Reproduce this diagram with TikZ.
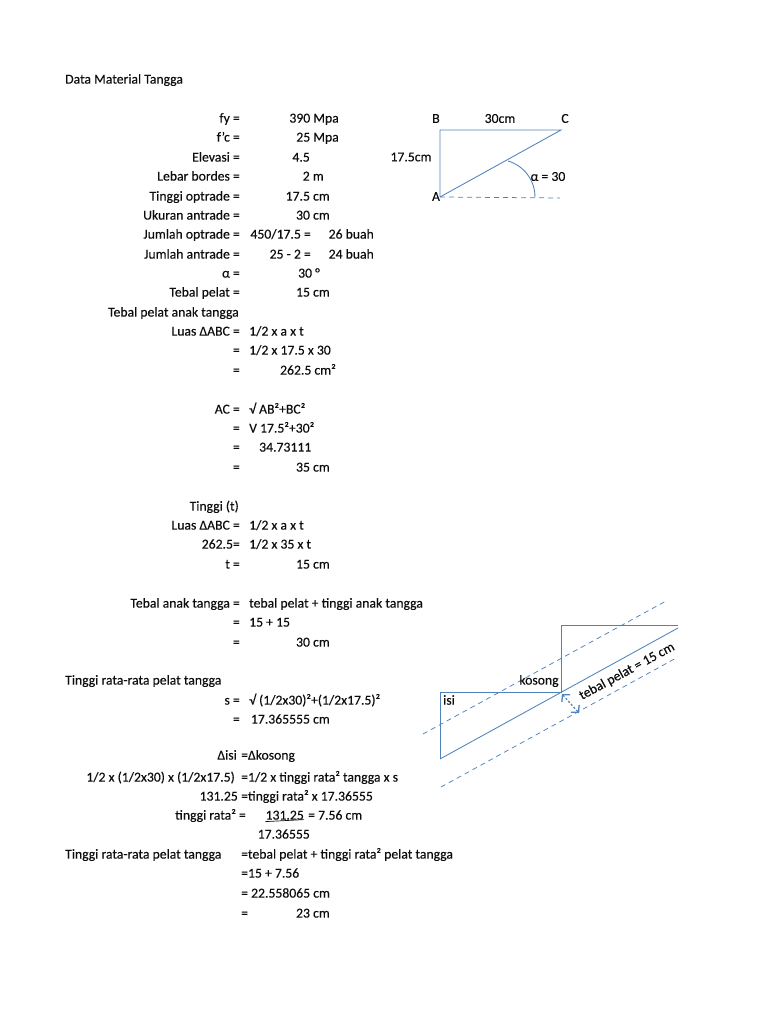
\documentclass[tikz,border=0pt]{standalone}
\usepackage{fontspec}
\setmainfont{Carlito}[FakeBold=0.25]
\usetikzlibrary{arrows.meta}
\definecolor{LineBlue}{rgb}{0.31,0.51,0.74}
\definecolor{TextGray}{rgb}{0.05,0.05,0.05}
\tikzset{
  lbl/.style={anchor=base east, inner sep=0pt, yshift=-0.6pt, text=TextGray, font=\fontsize{13.7}{15}\selectfont},
  val/.style={anchor=base west, inner sep=0pt, yshift=-0.6pt, text=TextGray, font=\fontsize{13.7}{15}\selectfont},
  mid/.style={anchor=center, inner sep=0pt, text=TextGray, font=\fontsize{13.7}{15}\selectfont},
  bluel/.style={line width=0.85pt, LineBlue},
  dashl/.style={line width=0.75pt, LineBlue, dash pattern=on 5pt off 4pt}
}
\begin{document}
\begin{tikzpicture}[x=1pt,y=-1pt]
    \useasboundingbox (0,0) rectangle (768,1024);
    % heading
    \node[val] (title) at (65,83) {Data Material Tangga};
    % material data
    \node[lbl] (fy) at (240,122) {fy =};            \node[lbl] (fyv) at (339,122) {390 Mpa};
    \node[lbl] (fc) at (240,141) {f'c =};           \node[lbl] (fcv) at (339,141) {25 Mpa};
    \node[lbl] (elev) at (240,161) {Elevasi =};     \node[lbl] (elevv) at (310,161) {4.5};
    \node[lbl] (bordes) at (240,180) {Lebar bordes =}; \node[lbl] (bordesv) at (324,180) {2 m};
    \node[lbl] (opt) at (240,200) {Tinggi optrade =};  \node[lbl] (optv) at (330,200) {17.5 cm};
    \node[lbl] (ant) at (240,219) {Ukuran antrade =};  \node[lbl] (antv) at (330,219) {30 cm};
    \node[lbl] (jopt) at (240,238) {Jumlah optrade =}; \node[lbl] (joptv) at (311,238) {450/17.5 =};
    \node[lbl] (jopts) at (374,238) {26 buah};
    \node[lbl] (jant) at (240,258) {Jumlah antrade =}; \node[lbl] (jantv) at (311,258) {25 - 2 =};
    \node[lbl] (jants) at (374,258) {24 buah};
    \node[lbl] (alp) at (240,277) {α =};            \node[lbl] (alpv) at (320,277) {30 °};
    \node[lbl] (tebal) at (240,296) {Tebal pelat =}; \node[lbl] (tebalv) at (330,296) {15 cm};
    % tebal pelat anak tangga
    \node[lbl] (head1) at (239,316) {Tebal pelat anak tangga};
    \node[lbl] (luas) at (240,335) {Luas ΔABC =};   \node[val] (luasa) at (249,335) {1/2 x a x t};
    \node[lbl] (eqa) at (240,354) {=};              \node[val] (luasb) at (249,354) {1/2 x 17.5 x 30};
    \node[lbl] (eqb) at (240,374) {=};              \node[lbl] (luasc) at (336,374) {262.5 cm²};
    \node[lbl] (ac) at (240,413) {AC =};            \node[val] (aca) at (249,413) {√ AB²+BC²};
    \node[lbl] (eqc) at (240,432) {=};              \node[val] (acb) at (249,432) {V 17.5²+30²};
    \node[lbl] (eqd) at (240,451) {=};              \node[val] (acc) at (259,451) {34.73111};
    \node[lbl] (eqe) at (240,471) {=};              \node[lbl] (acd) at (330,471) {35 cm};
    \node[lbl] (tt) at (239,510) {Tinggi (t)};
    \node[lbl] (luast) at (240,529) {Luas ΔABC =};  \node[val] (luasta) at (249,529) {1/2 x a x t};
    \node[lbl] (lval) at (240,548) {262.5=};        \node[val] (luastb) at (249,548) {1/2 x 35 x t};
    \node[lbl] (teq) at (240,568) {t =};            \node[lbl] (tval) at (330,568) {15 cm};
    \node[lbl] (anak) at (240,607) {Tebal anak tangga =}; \node[val] (anaka) at (249,607) {tebal pelat + tinggi anak tangga};
    \node[lbl] (eqf) at (240,626) {=};              \node[val] (anakb) at (249,626) {15 + 15};
    \node[lbl] (eqg) at (240,646) {=};              \node[lbl] (anakc) at (330,646) {30 cm};
    % tinggi rata-rata
    \node[val] (head2) at (65,684) {Tinggi rata-rata pelat tangga};
    \node[lbl] (seq) at (240,704) {s =};            \node[val] (sa) at (249,704) {√ (1/2x30)²+(1/2x17.5)²};
    \node[lbl] (eqh) at (240,723) {=};              \node[lbl] (sb) at (330,723) {17.365555 cm};
    \node[lbl] (disi) at (237,759) {Δisi};          \node[val] (dkos) at (241,759) {=Δkosong};
    \node[lbl] (half) at (235,781) {1/2 x (1/2x30) x (1/2x17.5)}; \node[val] (halfb) at (241,781) {=1/2 x tinggi rata² tangga x s};
    \node[lbl] (nilai) at (238,800) {131.25};       \node[val] (nilaib) at (241,800) {=tinggi rata² x 17.36555};
    \node[lbl] (rata) at (246,819) {tinggi rata² =};
    \node[lbl] (frac) at (304,819) {131.25};        \node[val] (fracv) at (308,819) {= 7.56 cm};
    \draw[line width=0.7pt, TextGray] (frac.base west) ++(0,2) coordinate (ula) -- (frac.base east) ++(0,2) coordinate (ulb);
    \node[lbl] (fracb) at (310,838) {17.36555};
    \node[val] (head3) at (65,858) {Tinggi rata-rata pelat tangga};
    \node[val] (heada) at (241,858) {=tebal pelat + tinggi rata² pelat tangga};
    \node[val] (headb) at (241,877) {=15 + 7.56};
    \node[val] (headc) at (241,897) {= 22.558065 cm};
    \node[val] (headd) at (241,917) {=};            \node[lbl] (heade) at (330,917) {23 cm};
    % triangle ABC
    \coordinate (A) at (440,197);
    \coordinate (B) at (440,130);
    \coordinate (C) at (561,130);
    \coordinate (D) at (560,198);
    \draw[bluel] (A) -- (B) -- (C) -- (A);
    \draw[dashl] (A) -- (D);
    \draw[bluel] (508,161) arc[start angle=-73.7, end angle=0, radius=37.5] coordinate (arcend);
    \node[mid] (labB) at (436,118.5) {B};
    \node[mid] (labC) at (565,118.5) {C};
    \node[mid] (labA) at (436,196.5) {A};
    \node[mid] (lab30) at (500,118.5) {30cm};
    \node[mid] (lab175) at (411,157) {17.5cm};
    \node[mid] (alpha) at (548,176.5) {α = 30};
    % stair section
    \coordinate (p1) at (440,692);
    \coordinate (p2) at (561,692);
    \coordinate (p3) at (561,625);
    \coordinate (p4) at (678,625);
    \coordinate (p5) at (440,759);
    \coordinate (p6) at (678,628);
    \coordinate (u1) at (423,734);
    \coordinate (u2) at (666,601);
    \coordinate (l1) at (441,787);
    \coordinate (l2) at (678,657);
    \coordinate (t1) at (562,694);
    \coordinate (t2) at (579,713);
    \draw[bluel] (p5) -- (p1) -- (p2) -- (p3) -- (p4);
    \draw[bluel] (p5) -- (p6);
    \draw[dashl] (u1) -- (u2);
    \draw[dashl] (l1) -- (l2);
    \draw[line width=1.3pt, LineBlue, dash pattern=on 2pt off 2pt, {Straight Barb[length=5pt,width=11pt]}-{Straight Barb[length=5pt,width=11pt]}] (t1) -- (t2);
    \node[mid] (kosong) at (539,681) {kosong};
    \node[mid] (isi) at (449,700) {isi};
    \node[mid, rotate=28.5] (tebalp) at (627,671.5) {tebal pelat = 15 cm};
    \end{tikzpicture}
\end{document}
